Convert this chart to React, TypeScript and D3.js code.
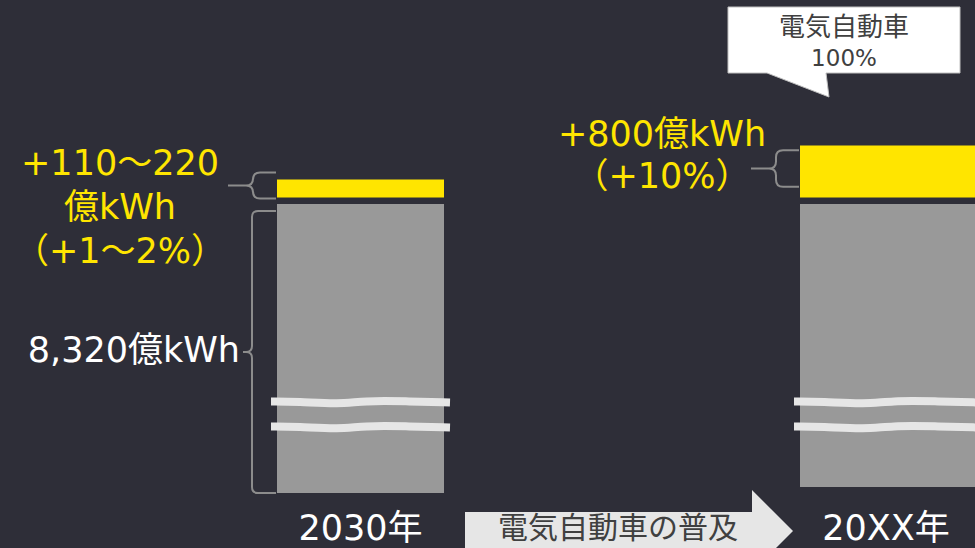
import React from "react";
import * as d3 from "d3";

// ---- data ----
const categories = ["2030年", "20XX年"];
const baseValues = [8320, 8000]; // 億kWh
const addValues = [220, 800]; // 億kWh (upper estimate for 2030)
const baseLabels = ["8,320億kWh", ""];
const addLabels = [
  ["+110～220", "億kWh", "（+1～2%）"],
  ["+800億kWh", "（+10%）"],
];
const calloutLines = ["電気自動車", "100%"];
const arrowLabel = "電気自動車の普及";

const W = 975;
const H = 548;
const BG = "#2e2e38";
const YELLOW = "#ffe500";
const GRAY = "#999999";
const BRACE = "#8c8c8c";
const FONT = "'DejaVu Sans', 'Noto Sans CJK JP', sans-serif";
const CJK = "'Noto Sans CJK JP', sans-serif";

function brace(xEnd: number, xV: number, xTip: number, yTop: number, yBot: number, r: number) {
  const yMid = (yTop + yBot) / 2;
  const p = d3.path();
  p.moveTo(xEnd, yTop);
  p.lineTo(xV + r, yTop);
  p.quadraticCurveTo(xV, yTop, xV, yTop + r);
  p.lineTo(xV, yMid - r);
  p.quadraticCurveTo(xV, yMid, xV - r, yMid);
  p.lineTo(xTip, yMid);
  p.moveTo(xV - r, yMid);
  p.quadraticCurveTo(xV, yMid, xV, yMid + r);
  p.lineTo(xV, yBot - r);
  p.quadraticCurveTo(xV, yBot, xV + r, yBot);
  p.lineTo(xEnd, yBot);
  return p.toString();
}

const wave = d3
  .line<[number, number]>()
  .x((d) => d[0])
  .y((d) => d[1])
  .curve(d3.curveBasis);
const waveShape: [number, number][] = [
  [0, -0.5],
  [0.15, -0.5],
  [0.38, 2.2],
  [0.52, -1.2],
  [0.75, -0.8],
  [1, 0.6],
];

export default function App() {
  const x = d3
    .scaleBand<string>()
    .domain(categories)
    .range([277, 967])
    .paddingInner(1 - 167 / 523)
    .paddingOuter(0);
  const bw = x.bandwidth();
  // broken axis for the base (gray) part
  const hBase = d3.scaleLinear().domain([0, 8000, 8320]).range([0, 283, 289]);
  // schematic scale for the increase (yellow) part
  const hAdd = d3.scaleLinear().domain([0, 220, 800]).range([0, 18, 52]);
  const grayTop = 204;
  const gap = 6.5;

  return (
    <svg
      width={W}
      height={H}
      viewBox={`0 0 ${W} ${H}`}
      style={{ position: "absolute", left: 0, top: 0, display: "block" }}
    >
      <rect x={0} y={0} width={W} height={H} fill={BG} />
      {categories.map((c, i) => {
        const left = x(c)!;
        const width = i === categories.length - 1 ? Math.max(bw, W - left) : bw;
        const gh = hBase(baseValues[i]);
        const yh = hAdd(addValues[i]);
        const yBottom = grayTop - gap;
        const yTop = yBottom - yh;
        const yCenter = (yTop + yBottom) / 2 - 3;
        const half = 10 + yh * 0.16;
        const cx = left + bw / 2;
        const waveW = width + 12;
        return (
          <g key={c}>
            <rect x={left} y={grayTop} width={width} height={gh} fill={GRAY} />
            <rect x={left} y={yTop} width={width} height={yh} fill={YELLOW} />
            {[198, 223].map((dy) => (
              <path
                key={dy}
                d={wave(waveShape.map(([t, v]) => [left - 6 + t * waveW, grayTop + dy + v]))!}
                fill="none"
                stroke="#e6e6e6"
                strokeWidth={8}
              />
            ))}
            <path
              d={brace(left - 1, left - 24, left - 49, yCenter - half, yCenter + half, 7)}
              fill="none"
              stroke={BRACE}
              strokeWidth={2}
            />
            {baseLabels[i] && (
              <>
                <path
                  d={brace(left - 1, left - 25, left - 34, grayTop + 7, grayTop + gh, 6)}
                  fill="none"
                  stroke={BRACE}
                  strokeWidth={2}
                />
                <text
                  x={left - 37}
                  y={grayTop + 7 + (gh - 7) / 2 + 10}
                  textAnchor="end"
                  fill="#ffffff"
                  fontFamily={FONT}
                  fontSize={35}
                >
                  {baseLabels[i]}
                </text>
              </>
            )}
            {addLabels[i].map((t, j) => {
              const n = addLabels[i].length;
              const lineH = n === 3 ? 44 : 42;
              const baseY = n === 3 ? yCenter - 10.5 : yCenter - 22.5;
              const tx = n === 3 ? left - 157 : left - 138;
              return (
                <text
                  key={j}
                  x={tx}
                  y={baseY + j * lineH}
                  textAnchor="middle"
                  fill={YELLOW}
                  fontFamily={FONT}
                  fontSize={35}
                >
                  {t}
                </text>
              );
            })}
            <text
              x={i === 0 ? cx : cx + 2.5}
              y={540}
              textAnchor="middle"
              fill="#ffffff"
              fontFamily={FONT}
              fontSize={35}
            >
              {c}
            </text>
          </g>
        );
      })}

      {/* callout */}
      <path
        d="M728,7 L960,7 L960,73 L826,73 L829,97 L767,73 L728,73 Z"
        fill="#ffffff"
        stroke="#c0c0c0"
        strokeWidth={1}
      />
      <text x={844} y={36} textAnchor="middle" fill="#404040" fontFamily={CJK} fontSize={26}>
        {calloutLines[0]}
      </text>
      <text x={844} y={66} textAnchor="middle" fill="#404040" fontFamily={FONT} fontSize={23}>
        {calloutLines[1]}
      </text>

      {/* arrow */}
      <path d="M465,512 L752,512 L752,490 L793,531 L752,572 L752,550 L465,550 Z" fill="#e6e6e6" />
      <text x={618} y={538} textAnchor="middle" fill="#404040" fontFamily={CJK} fontSize={30}>
        {arrowLabel}
      </text>
    </svg>
  );
}
